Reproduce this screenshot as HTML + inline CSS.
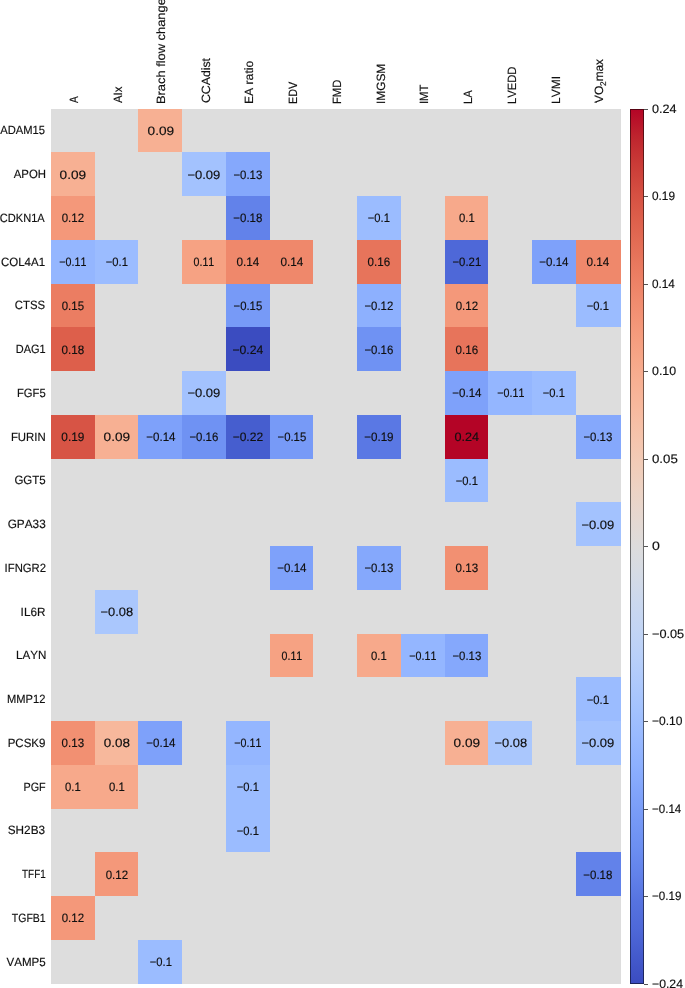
<!DOCTYPE html>
<html lang="en">
<head>
<meta charset="utf-8">
<title>Heatmap</title>
<style>
html,body{margin:0;padding:0;background:#fff;}
body{width:685px;height:988px;position:relative;overflow:hidden;font-family:"Liberation Sans",sans-serif;font-size:12.2px;color:#101010;-webkit-text-stroke:0.16px #101010;font-kerning:none;text-rendering:geometricPrecision;}
#hm{position:absolute;left:51.00px;top:108.55px;width:569.77px;height:875.45px;background:#dddddd;}
.c{position:absolute;white-space:nowrap;}
.c span{display:block;width:43.745px;text-align:center;position:relative;top:1.3px;left:0.2px;}
.r{font-size:12.0px;position:absolute;white-space:nowrap;height:14px;line-height:14px;transform-origin:100% 50%;}
.h{font-size:12.0px;position:absolute;white-space:nowrap;transform-origin:0 0;height:14px;line-height:14px;}
.h sub{font-size:8.4px;vertical-align:baseline;position:relative;top:2.7px;}
#cb{position:absolute;left:629.9px;top:108.70px;width:13.9px;height:875.30px;box-sizing:border-box;background-origin:border-box;background-repeat:no-repeat;border:1px solid rgba(0,0,0,0.52);}
.t{position:absolute;left:643.6px;width:4.3px;height:0.6px;background:#555;}
.tl{position:absolute;height:14px;line-height:14px;white-space:nowrap;transform-origin:0 50%;}
</style>
</head>
<body>

<div class="h" style="left:67.31px;top:102.67px;transform:rotate(-90deg) scaleX(0.8420)">A</div>
<div class="h" style="left:111.06px;top:102.67px;transform:rotate(-90deg) scaleX(0.9485)">AIx</div>
<div class="h" style="left:153.50px;top:103.71px;transform:rotate(-90deg) scaleX(1.0719)">Brach flow change</div>
<div class="h" style="left:198.55px;top:103.27px;transform:rotate(-90deg) scaleX(1.0228)">CCAdist</div>
<div class="h" style="left:242.29px;top:103.65px;transform:rotate(-90deg) scaleX(1.0122)">EA ratio</div>
<div class="h" style="left:286.04px;top:103.53px;transform:rotate(-90deg) scaleX(0.8969)">EDV</div>
<div class="h" style="left:329.78px;top:103.57px;transform:rotate(-90deg) scaleX(0.9331)">FMD</div>
<div class="h" style="left:373.53px;top:103.75px;transform:rotate(-90deg) scaleX(0.9903)">IMGSM</div>
<div class="h" style="left:417.27px;top:103.68px;transform:rotate(-90deg) scaleX(0.9337)">IMT</div>
<div class="h" style="left:461.02px;top:103.57px;transform:rotate(-90deg) scaleX(0.9364)">LA</div>
<div class="h" style="left:504.76px;top:103.57px;transform:rotate(-90deg) scaleX(0.9336)">LVEDD</div>
<div class="h" style="left:548.51px;top:103.63px;transform:rotate(-90deg) scaleX(0.9994)">LVMI</div>
<div class="h" style="left:592.25px;top:102.70px;transform:rotate(-90deg) scaleX(0.9843)">VO<sub>2</sub>max</div>
<div class="r" style="right:639.58px;top:123.33px;transform:scaleX(0.9328)">ADAM15</div>
<div class="r" style="right:639.12px;top:167.08px;transform:scaleX(0.9483)">APOH</div>
<div class="r" style="right:640.03px;top:210.83px;transform:scaleX(0.9220)">CDKN1A</div>
<div class="r" style="right:639.49px;top:254.58px;transform:scaleX(0.9569)">COL4A1</div>
<div class="r" style="right:639.53px;top:298.32px;transform:scaleX(0.9435)">CTSS</div>
<div class="r" style="right:639.52px;top:342.07px;transform:scaleX(0.9130)">DAG1</div>
<div class="r" style="right:639.58px;top:385.82px;transform:scaleX(0.9356)">FGF5</div>
<div class="r" style="right:639.12px;top:429.57px;transform:scaleX(0.9481)">FURIN</div>
<div class="r" style="right:639.57px;top:473.32px;transform:scaleX(0.9568)">GGT5</div>
<div class="r" style="right:639.53px;top:517.07px;transform:scaleX(0.9825)">GPA33</div>
<div class="r" style="right:639.48px;top:560.82px;transform:scaleX(0.9411)">IFNGR2</div>
<div class="r" style="right:639.51px;top:604.57px;transform:scaleX(0.9754)">IL6R</div>
<div class="r" style="right:639.10px;top:648.32px;transform:scaleX(0.9665)">LAYN</div>
<div class="r" style="right:639.49px;top:692.07px;transform:scaleX(0.9282)">MMP12</div>
<div class="r" style="right:639.51px;top:735.82px;transform:scaleX(0.9577)">PCSK9</div>
<div class="r" style="right:639.62px;top:779.57px;transform:scaleX(0.9007)">PGF</div>
<div class="r" style="right:639.53px;top:823.32px;transform:scaleX(0.9797)">SH2B3</div>
<div class="r" style="right:639.57px;top:867.07px;transform:scaleX(0.8235)">TFF1</div>
<div class="r" style="right:639.54px;top:910.82px;transform:scaleX(0.8753)">TGFB1</div>
<div class="r" style="right:639.56px;top:954.57px;transform:scaleX(0.9645)">VAMP5</div>
<div id="hm">
<div class="c" style="left:87.49px;top:0.00px;width:43.74px;height:43.75px;line-height:43.75px;background:#f7b093"><span style="transform:scaleX(1.1194)">0.09</span></div>
<div class="c" style="left:0.00px;top:43.75px;width:43.74px;height:43.75px;line-height:43.75px;background:#f7b093"><span style="transform:scaleX(1.1194)">0.09</span></div>
<div class="c" style="left:131.23px;top:43.75px;width:43.74px;height:43.75px;line-height:43.75px;background:#a3c2fe"><span style="transform:scaleX(1.0677)">−0.09</span></div>
<div class="c" style="left:174.98px;top:43.75px;width:43.74px;height:43.75px;line-height:43.75px;background:#85a8fc"><span style="transform:scaleX(0.9367)">−0.13</span></div>
<div class="c" style="left:0.00px;top:87.50px;width:43.74px;height:43.75px;line-height:43.75px;background:#f4987a"><span style="transform:scaleX(0.9424)">0.12</span></div>
<div class="c" style="left:174.98px;top:87.50px;width:43.74px;height:43.75px;line-height:43.75px;background:#6282ea"><span style="transform:scaleX(0.9433)">−0.18</span></div>
<div class="c" style="left:306.21px;top:87.50px;width:43.74px;height:43.75px;line-height:43.75px;background:#9bbcff"><span style="transform:scaleX(0.9197)">−0.1</span></div>
<div class="c" style="left:393.70px;top:87.50px;width:43.74px;height:43.75px;line-height:43.75px;background:#f7a98b"><span style="transform:scaleX(0.9284)">0.1</span></div>
<div class="c" style="left:0.00px;top:131.25px;width:43.74px;height:43.75px;line-height:43.75px;background:#94b6ff"><span style="transform:scaleX(0.8779)">−0.11</span></div>
<div class="c" style="left:43.74px;top:131.25px;width:43.74px;height:43.75px;line-height:43.75px;background:#9bbcff"><span style="transform:scaleX(0.9197)">−0.1</span></div>
<div class="c" style="left:131.23px;top:131.25px;width:43.74px;height:43.75px;line-height:43.75px;background:#f6a283"><span style="transform:scaleX(0.8711)">0.11</span></div>
<div class="c" style="left:174.98px;top:131.25px;width:43.74px;height:43.75px;line-height:43.75px;background:#ef886b"><span style="transform:scaleX(0.9646)">0.14</span></div>
<div class="c" style="left:218.72px;top:131.25px;width:43.74px;height:43.75px;line-height:43.75px;background:#ef886b"><span style="transform:scaleX(0.9646)">0.14</span></div>
<div class="c" style="left:306.21px;top:131.25px;width:43.74px;height:43.75px;line-height:43.75px;background:#e7745b"><span style="transform:scaleX(0.9502)">0.16</span></div>
<div class="c" style="left:393.70px;top:131.25px;width:43.74px;height:43.75px;line-height:43.75px;background:#4e68d8"><span style="transform:scaleX(0.9319)">−0.21</span></div>
<div class="c" style="left:481.19px;top:131.25px;width:43.74px;height:43.75px;line-height:43.75px;background:#7ea1fa"><span style="transform:scaleX(0.9495)">−0.14</span></div>
<div class="c" style="left:524.94px;top:131.25px;width:44.83px;height:43.75px;line-height:43.75px;background:#ef886b"><span style="transform:scaleX(0.9646)">0.14</span></div>
<div class="c" style="left:0.00px;top:175.00px;width:43.74px;height:43.75px;line-height:43.75px;background:#eb7d62"><span style="transform:scaleX(0.9382)">0.15</span></div>
<div class="c" style="left:174.98px;top:175.00px;width:43.74px;height:43.75px;line-height:43.75px;background:#779af7"><span style="transform:scaleX(0.9292)">−0.15</span></div>
<div class="c" style="left:306.21px;top:175.00px;width:43.74px;height:43.75px;line-height:43.75px;background:#8db0fe"><span style="transform:scaleX(0.9324)">−0.12</span></div>
<div class="c" style="left:393.70px;top:175.00px;width:43.74px;height:43.75px;line-height:43.75px;background:#f4987a"><span style="transform:scaleX(0.9424)">0.12</span></div>
<div class="c" style="left:524.94px;top:175.00px;width:44.83px;height:43.75px;line-height:43.75px;background:#9bbcff"><span style="transform:scaleX(0.9197)">−0.1</span></div>
<div class="c" style="left:0.00px;top:218.75px;width:43.74px;height:43.75px;line-height:43.75px;background:#dd5f4b"><span style="transform:scaleX(0.9565)">0.18</span></div>
<div class="c" style="left:174.98px;top:218.75px;width:43.74px;height:43.75px;line-height:43.75px;background:#3b4cc0"><span style="transform:scaleX(1.0030)">−0.24</span></div>
<div class="c" style="left:306.21px;top:218.75px;width:43.74px;height:43.75px;line-height:43.75px;background:#6f92f3"><span style="transform:scaleX(0.9384)">−0.16</span></div>
<div class="c" style="left:393.70px;top:218.75px;width:43.74px;height:43.75px;line-height:43.75px;background:#e7745b"><span style="transform:scaleX(0.9502)">0.16</span></div>
<div class="c" style="left:131.23px;top:262.50px;width:43.74px;height:43.75px;line-height:43.75px;background:#a3c2fe"><span style="transform:scaleX(1.0677)">−0.09</span></div>
<div class="c" style="left:393.70px;top:262.50px;width:43.74px;height:43.75px;line-height:43.75px;background:#7ea1fa"><span style="transform:scaleX(0.9495)">−0.14</span></div>
<div class="c" style="left:437.45px;top:262.50px;width:43.74px;height:43.75px;line-height:43.75px;background:#94b6ff"><span style="transform:scaleX(0.8779)">−0.11</span></div>
<div class="c" style="left:481.19px;top:262.50px;width:43.74px;height:43.75px;line-height:43.75px;background:#9bbcff"><span style="transform:scaleX(0.9197)">−0.1</span></div>
<div class="c" style="left:0.00px;top:306.25px;width:43.74px;height:43.75px;line-height:43.75px;background:#d75445"><span style="transform:scaleX(0.9696)">0.19</span></div>
<div class="c" style="left:43.74px;top:306.25px;width:43.74px;height:43.75px;line-height:43.75px;background:#f7b093"><span style="transform:scaleX(1.1194)">0.09</span></div>
<div class="c" style="left:87.49px;top:306.25px;width:43.74px;height:43.75px;line-height:43.75px;background:#7ea1fa"><span style="transform:scaleX(0.9495)">−0.14</span></div>
<div class="c" style="left:131.23px;top:306.25px;width:43.74px;height:43.75px;line-height:43.75px;background:#6f92f3"><span style="transform:scaleX(0.9384)">−0.16</span></div>
<div class="c" style="left:174.98px;top:306.25px;width:43.74px;height:43.75px;line-height:43.75px;background:#465ecf"><span style="transform:scaleX(0.9864)">−0.22</span></div>
<div class="c" style="left:218.72px;top:306.25px;width:43.74px;height:43.75px;line-height:43.75px;background:#779af7"><span style="transform:scaleX(0.9292)">−0.15</span></div>
<div class="c" style="left:306.21px;top:306.25px;width:43.74px;height:43.75px;line-height:43.75px;background:#5a78e4"><span style="transform:scaleX(0.9532)">−0.19</span></div>
<div class="c" style="left:393.70px;top:306.25px;width:43.74px;height:43.75px;line-height:43.75px;background:#b40426"><span style="transform:scaleX(1.0344)">0.24</span></div>
<div class="c" style="left:524.94px;top:306.25px;width:44.83px;height:43.75px;line-height:43.75px;background:#85a8fc"><span style="transform:scaleX(0.9367)">−0.13</span></div>
<div class="c" style="left:393.70px;top:350.00px;width:43.74px;height:43.75px;line-height:43.75px;background:#9bbcff"><span style="transform:scaleX(0.9197)">−0.1</span></div>
<div class="c" style="left:524.94px;top:393.75px;width:44.83px;height:43.75px;line-height:43.75px;background:#a3c2fe"><span style="transform:scaleX(1.0677)">−0.09</span></div>
<div class="c" style="left:218.72px;top:437.50px;width:43.74px;height:43.75px;line-height:43.75px;background:#7ea1fa"><span style="transform:scaleX(0.9495)">−0.14</span></div>
<div class="c" style="left:306.21px;top:437.50px;width:43.74px;height:43.75px;line-height:43.75px;background:#85a8fc"><span style="transform:scaleX(0.9367)">−0.13</span></div>
<div class="c" style="left:393.70px;top:437.50px;width:43.74px;height:43.75px;line-height:43.75px;background:#f29072"><span style="transform:scaleX(0.9480)">0.13</span></div>
<div class="c" style="left:43.74px;top:481.25px;width:43.74px;height:43.75px;line-height:43.75px;background:#aac7fd"><span style="transform:scaleX(1.0576)">−0.08</span></div>
<div class="c" style="left:218.72px;top:525.00px;width:43.74px;height:43.75px;line-height:43.75px;background:#f6a283"><span style="transform:scaleX(0.8711)">0.11</span></div>
<div class="c" style="left:306.21px;top:525.00px;width:43.74px;height:43.75px;line-height:43.75px;background:#f7a98b"><span style="transform:scaleX(0.9284)">0.1</span></div>
<div class="c" style="left:349.96px;top:525.00px;width:43.74px;height:43.75px;line-height:43.75px;background:#94b6ff"><span style="transform:scaleX(0.8779)">−0.11</span></div>
<div class="c" style="left:393.70px;top:525.00px;width:43.74px;height:43.75px;line-height:43.75px;background:#85a8fc"><span style="transform:scaleX(0.9367)">−0.13</span></div>
<div class="c" style="left:524.94px;top:568.75px;width:44.83px;height:43.75px;line-height:43.75px;background:#9bbcff"><span style="transform:scaleX(0.9197)">−0.1</span></div>
<div class="c" style="left:0.00px;top:612.50px;width:43.74px;height:43.75px;line-height:43.75px;background:#f29072"><span style="transform:scaleX(0.9480)">0.13</span></div>
<div class="c" style="left:43.74px;top:612.50px;width:43.74px;height:43.75px;line-height:43.75px;background:#f7b89c"><span style="transform:scaleX(1.1061)">0.08</span></div>
<div class="c" style="left:87.49px;top:612.50px;width:43.74px;height:43.75px;line-height:43.75px;background:#7ea1fa"><span style="transform:scaleX(0.9495)">−0.14</span></div>
<div class="c" style="left:174.98px;top:612.50px;width:43.74px;height:43.75px;line-height:43.75px;background:#94b6ff"><span style="transform:scaleX(0.8779)">−0.11</span></div>
<div class="c" style="left:393.70px;top:612.50px;width:43.74px;height:43.75px;line-height:43.75px;background:#f7b093"><span style="transform:scaleX(1.1194)">0.09</span></div>
<div class="c" style="left:437.45px;top:612.50px;width:43.74px;height:43.75px;line-height:43.75px;background:#aac7fd"><span style="transform:scaleX(1.0576)">−0.08</span></div>
<div class="c" style="left:524.94px;top:612.50px;width:44.83px;height:43.75px;line-height:43.75px;background:#a3c2fe"><span style="transform:scaleX(1.0677)">−0.09</span></div>
<div class="c" style="left:0.00px;top:656.25px;width:43.74px;height:43.75px;line-height:43.75px;background:#f7a98b"><span style="transform:scaleX(0.9284)">0.1</span></div>
<div class="c" style="left:43.74px;top:656.25px;width:43.74px;height:43.75px;line-height:43.75px;background:#f7a98b"><span style="transform:scaleX(0.9284)">0.1</span></div>
<div class="c" style="left:174.98px;top:656.25px;width:43.74px;height:43.75px;line-height:43.75px;background:#9bbcff"><span style="transform:scaleX(0.9197)">−0.1</span></div>
<div class="c" style="left:174.98px;top:700.00px;width:43.74px;height:43.75px;line-height:43.75px;background:#9bbcff"><span style="transform:scaleX(0.9197)">−0.1</span></div>
<div class="c" style="left:43.74px;top:743.75px;width:43.74px;height:43.75px;line-height:43.75px;background:#f4987a"><span style="transform:scaleX(0.9424)">0.12</span></div>
<div class="c" style="left:524.94px;top:743.75px;width:44.83px;height:43.75px;line-height:43.75px;background:#6282ea"><span style="transform:scaleX(0.9433)">−0.18</span></div>
<div class="c" style="left:0.00px;top:787.50px;width:43.74px;height:43.75px;line-height:43.75px;background:#f4987a"><span style="transform:scaleX(0.9424)">0.12</span></div>
<div class="c" style="left:87.49px;top:831.25px;width:43.74px;height:44.20px;line-height:43.75px;background:#9bbcff"><span style="transform:scaleX(0.9197)">−0.1</span></div>
</div>
<div id="cb" style="background-image:linear-gradient(to bottom,#b40426 0.00%,#be242e 3.12%,#ca3b37 6.25%,#d44e41 9.38%,#dd5f4b 12.50%,#e46e56 15.62%,#eb7d62 18.75%,#f08b6e 21.88%,#f4987a 25.00%,#f6a586 28.12%,#f7b093 31.25%,#f7ba9f 34.38%,#f5c4ac 37.50%,#f1ccb8 40.62%,#ecd3c5 43.75%,#e5d8d1 46.88%,#dddcdc 50.00%,#d5dbe5 53.12%,#cbd8ee 56.25%,#c3d5f4 59.38%,#b9d0f9 62.50%,#aec9fc 65.62%,#a3c2fe 68.75%,#98b9ff 71.88%,#8db0fe 75.00%,#81a4fb 78.12%,#7699f6 81.25%,#6c8ff1 84.38%,#6282ea 87.50%,#5673e0 90.62%,#4e68d8 93.75%,#445acc 96.88%,#3b4cc0 100.00%)"></div>
<div class="t" style="top:108.60px"></div>
<div class="tl" style="left:652.41px;top:101.60px;transform:scaleX(1.0344)">0.24</div>
<div class="t" style="top:196.13px"></div>
<div class="tl" style="left:652.44px;top:189.13px;transform:scaleX(0.9696)">0.19</div>
<div class="t" style="top:283.66px"></div>
<div class="tl" style="left:652.44px;top:276.66px;transform:scaleX(0.9646)">0.14</div>
<div class="t" style="top:371.19px"></div>
<div class="tl" style="left:652.42px;top:364.19px;transform:scaleX(1.0157)">0.10</div>
<div class="t" style="top:458.72px"></div>
<div class="tl" style="left:652.38px;top:451.72px;transform:scaleX(1.0876)">0.05</div>
<div class="t" style="top:546.25px"></div>
<div class="tl" style="left:652.35px;top:539.25px;transform:scaleX(1.1574)">0</div>
<div class="t" style="top:633.78px"></div>
<div class="tl" style="left:652.27px;top:626.78px;transform:scaleX(1.0435)">−0.05</div>
<div class="t" style="top:721.31px"></div>
<div class="tl" style="left:652.31px;top:714.31px;transform:scaleX(0.9885)">−0.10</div>
<div class="t" style="top:808.84px"></div>
<div class="tl" style="left:652.33px;top:801.84px;transform:scaleX(0.9495)">−0.14</div>
<div class="t" style="top:896.37px"></div>
<div class="tl" style="left:652.33px;top:889.37px;transform:scaleX(0.9532)">−0.19</div>
<div class="t" style="top:983.90px"></div>
<div class="tl" style="left:652.30px;top:976.90px;transform:scaleX(1.0030)">−0.24</div>
</body>
</html>
